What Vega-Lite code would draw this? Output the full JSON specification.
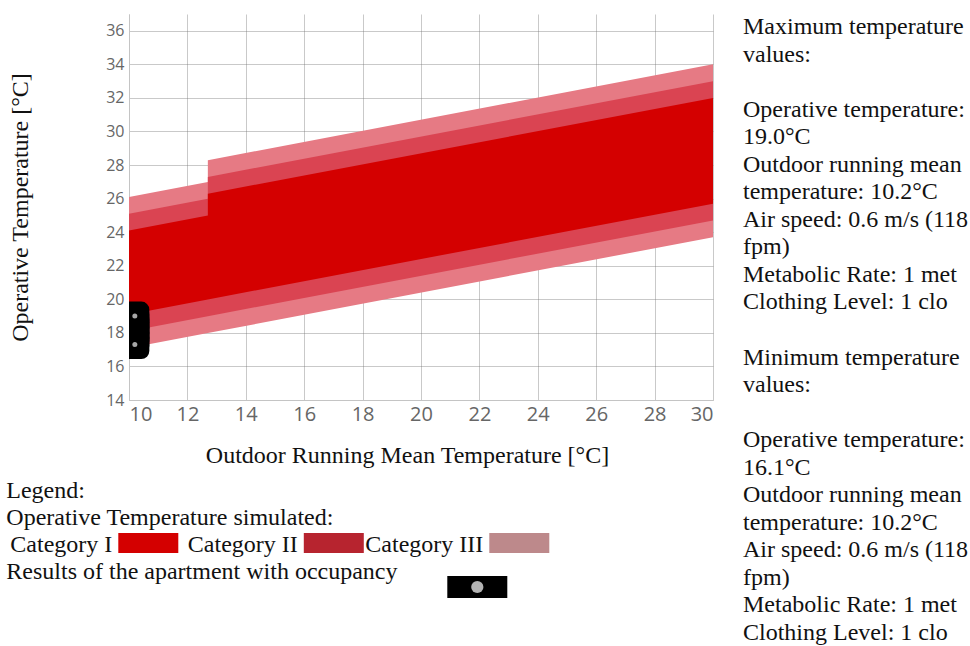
{
  "$schema": "https://vega.github.io/schema/vega-lite/v6.json",
  "padding": {"left": 6, "top": 14, "right": 0, "bottom": 0},
  "background": "white",
  "config": {
    "view": {"stroke": null},
    "font": "Liberation Serif",
    "text": {"font": "Liberation Serif", "fontSize": 24, "color": "#111111"},
    "axis": {
      "gridColor": "#777777",
      "gridOpacity": 0.4,
      "domainColor": "#c4c4c4",
      "ticks": false,
      "labelColor": "#666666",
      "labelFont": "Open Sans",
      "labelOverlap": false,
      "titleFont": "Liberation Serif",
      "titleFontSize": 24,
      "titleFontWeight": "normal",
      "titleColor": "#111111",
      "zindex": 1
    },
    "axisX": {"labelFontSize": 20, "labelPadding": 4, "titlePadding": 19},
    "axisY": {"labelFontSize": 16, "labelPadding": 5, "titlePadding": 73}
  },
  "datasets": {
    "bands": [
      {"category": "Category III", "trm": 10, "lo": 17.1, "hi": 26.1},
      {"category": "Category III", "trm": 12.7, "lo": 17.99, "hi": 26.99},
      {"category": "Category III", "trm": 12.7, "lo": 17.99, "hi": 28.29},
      {"category": "Category III", "trm": 30, "lo": 23.7, "hi": 34.0},
      {"category": "Category II", "trm": 10, "lo": 18.1, "hi": 25.1},
      {"category": "Category II", "trm": 12.7, "lo": 18.99, "hi": 25.99},
      {"category": "Category II", "trm": 12.7, "lo": 18.99, "hi": 27.29},
      {"category": "Category II", "trm": 30, "lo": 24.7, "hi": 33.0},
      {"category": "Category I", "trm": 10, "lo": 19.1, "hi": 24.1},
      {"category": "Category I", "trm": 12.7, "lo": 19.99, "hi": 24.99},
      {"category": "Category I", "trm": 12.7, "lo": 19.99, "hi": 26.29},
      {"category": "Category I", "trm": 30, "lo": 25.7, "hi": 32.0}
    ],
    "occupancy": [
      {"trm": 10.2, "operative": 19.0},
      {"trm": 10.2, "operative": 18.7},
      {"trm": 10.2, "operative": 18.4},
      {"trm": 10.2, "operative": 18.1},
      {"trm": 10.2, "operative": 17.9},
      {"trm": 10.2, "operative": 17.6},
      {"trm": 10.2, "operative": 17.3}
    ],
    "legendItems": [
      {"line": 1, "slot": 0, "label": "Legend:"},
      {"line": 2, "slot": 0, "label": "Operative Temperature simulated:"},
      {"line": 3, "slot": 0, "swatch": "Category I"},
      {"line": 3, "slot": 1, "swatch": "Category II"},
      {"line": 3, "slot": 2, "swatch": "Category III"},
      {"line": 4, "slot": 0, "label": "Results of the apartment with occupancy"},
      {"line": 4, "slot": 2, "marker": "occupancy"}
    ],
    "notes": [
      {"line": 1, "text": "Maximum temperature"},
      {"line": 2, "text": "values:"},
      {"line": 4, "text": "Operative temperature:"},
      {"line": 5, "text": "19.0°C"},
      {"line": 6, "text": "Outdoor running mean"},
      {"line": 7, "text": "temperature: 10.2°C"},
      {"line": 8, "text": "Air speed: 0.6 m/s (118"},
      {"line": 9, "text": "fpm)"},
      {"line": 10, "text": "Metabolic Rate: 1 met"},
      {"line": 11, "text": "Clothing Level: 1 clo"},
      {"line": 13, "text": "Minimum temperature"},
      {"line": 14, "text": "values:"},
      {"line": 16, "text": "Operative temperature:"},
      {"line": 17, "text": "16.1°C"},
      {"line": 18, "text": "Outdoor running mean"},
      {"line": 19, "text": "temperature: 10.2°C"},
      {"line": 20, "text": "Air speed: 0.6 m/s (118"},
      {"line": 21, "text": "fpm)"},
      {"line": 22, "text": "Metabolic Rate: 1 met"},
      {"line": 23, "text": "Clothing Level: 1 clo"}
    ]
  },
  "hconcat": [
    {
      "concat": [
        {
          "width": 584,
          "height": 386,
          "layer": [
            {
              "data": {"name": "bands"},
              "transform": [{"filter": "datum.category === 'Category III'"}],
              "mark": {"type": "area", "color": "#e67a84", "opacity": 1},
              "encoding": {
                "x": {
                  "field": "trm", "type": "quantitative",
                  "scale": {"domain": [10, 30], "nice": false, "zero": false},
                  "axis": {"values": [10, 12, 14, 16, 18, 20, 22, 24, 26, 28, 30], "title": "Outdoor Running Mean Temperature [°C]", "titleX": 278}
                },
                "y": {
                  "field": "lo", "type": "quantitative",
                  "scale": {"domain": [14, 37], "nice": false, "zero": false},
                  "axis": {"values": [14, 16, 18, 20, 22, 24, 26, 28, 30, 32, 34, 36], "title": "Operative Temperature [°C]"}
                },
                "y2": {"field": "hi"}
              }
            },
            {
              "data": {"name": "bands"},
              "transform": [{"filter": "datum.category === 'Category II'"}],
              "mark": {"type": "area", "color": "#da4452", "opacity": 1},
              "encoding": {
                "x": {"field": "trm", "type": "quantitative", "axis": {"values": [10, 12, 14, 16, 18, 20, 22, 24, 26, 28, 30], "title": "Outdoor Running Mean Temperature [°C]", "titleX": 278}},
                "y": {"field": "lo", "type": "quantitative", "axis": {"values": [14, 16, 18, 20, 22, 24, 26, 28, 30, 32, 34, 36], "title": "Operative Temperature [°C]"}},
                "y2": {"field": "hi"}
              }
            },
            {
              "data": {"name": "bands"},
              "transform": [{"filter": "datum.category === 'Category I'"}],
              "mark": {"type": "area", "color": "#d40000", "opacity": 1},
              "encoding": {
                "x": {"field": "trm", "type": "quantitative", "axis": {"values": [10, 12, 14, 16, 18, 20, 22, 24, 26, 28, 30], "title": "Outdoor Running Mean Temperature [°C]", "titleX": 278}},
                "y": {"field": "lo", "type": "quantitative", "axis": {"values": [14, 16, 18, 20, 22, 24, 26, 28, 30, 32, 34, 36], "title": "Operative Temperature [°C]"}},
                "y2": {"field": "hi"}
              }
            },
            {
              "data": {"name": "occupancy"},
              "mark": {"type": "point", "shape": "square", "filled": true, "color": "black", "stroke": "black", "strokeWidth": 16, "strokeJoin": "round", "size": 169, "opacity": 1, "clip": true},
              "encoding": {
                "x": {"field": "trm", "type": "quantitative", "axis": {"values": [10, 12, 14, 16, 18, 20, 22, 24, 26, 28, 30], "title": "Outdoor Running Mean Temperature [°C]", "titleX": 278}},
                "y": {"field": "operative", "type": "quantitative", "axis": {"values": [14, 16, 18, 20, 22, 24, 26, 28, 30, 32, 34, 36], "title": "Operative Temperature [°C]"}}
              }
            },
            {
              "data": {"name": "occupancy"},
              "transform": [
                {"joinaggregate": [{"op": "max", "field": "operative", "as": "hiT"}, {"op": "min", "field": "operative", "as": "loT"}]},
                {"filter": "datum.operative === datum.hiT || datum.operative === datum.loT"}
              ],
              "mark": {"type": "circle", "color": "#a8a8a8", "size": 25, "opacity": 1},
              "encoding": {
                "x": {"field": "trm", "type": "quantitative", "axis": {"values": [10, 12, 14, 16, 18, 20, 22, 24, 26, 28, 30], "title": "Outdoor Running Mean Temperature [°C]", "titleX": 278}},
                "y": {"field": "operative", "type": "quantitative", "axis": {"values": [14, 16, 18, 20, 22, 24, 26, 28, 30, 32, 34, 36], "title": "Operative Temperature [°C]"}}
              }
            }
          ]
        },
        {
          "width": 371,
          "height": 81,
          "data": {"name": "legendItems"},
          "encoding": {
            "x": {"field": "slot", "type": "quantitative", "scale": {"domain": [0, 2]}, "axis": null},
            "y": {"field": "line", "type": "quantitative", "scale": {"domain": [1, 4], "reverse": true}, "axis": null}
          },
          "layer": [
            {
              "transform": [{"filter": "isValid(datum.label)"}],
              "mark": {"type": "text", "align": "left", "baseline": "middle", "xOffset": -122.7},
              "encoding": {"text": {"field": "label"}}
            },
            {
              "transform": [{"filter": "isValid(datum.swatch)"}],
              "mark": {"type": "text", "align": "right", "baseline": "middle", "xOffset": -16.7},
              "encoding": {"text": {"field": "swatch"}}
            },
            {
              "transform": [{"filter": "isValid(datum.swatch)"}],
              "mark": {"type": "rect", "width": 60, "height": 20, "xOffset": 19.3, "yOffset": -2},
              "encoding": {
                "color": {
                  "field": "swatch", "type": "nominal",
                  "scale": {"domain": ["Category I", "Category II", "Category III"], "range": ["#d40000", "#b7242f", "#bd898b"]},
                  "legend": null
                }
              }
            },
            {
              "transform": [{"filter": "datum.marker === 'occupancy'"}],
              "mark": {"type": "rect", "width": 60, "height": 22, "color": "black", "xOffset": -22.7, "yOffset": 15}
            },
            {
              "transform": [{"filter": "datum.marker === 'occupancy'"}],
              "mark": {"type": "circle", "size": 150, "color": "#b3b3b3", "opacity": 1, "xOffset": -22.7, "yOffset": 15}
            }
          ]
        }
      ],
      "columns": 1,
      "spacing": 12
    },
    {
      "width": 220,
      "height": 606,
      "data": {"name": "notes"},
      "mark": {"type": "text", "align": "left", "baseline": "middle", "yOffset": 13},
      "encoding": {
        "x": {"datum": 0, "type": "quantitative", "scale": {"domain": [0, 1]}, "axis": null},
        "y": {"field": "line", "type": "quantitative", "scale": {"domain": [1, 23], "reverse": true}, "axis": null},
        "text": {"field": "text"}
      }
    }
  ],
  "spacing": 30
}
